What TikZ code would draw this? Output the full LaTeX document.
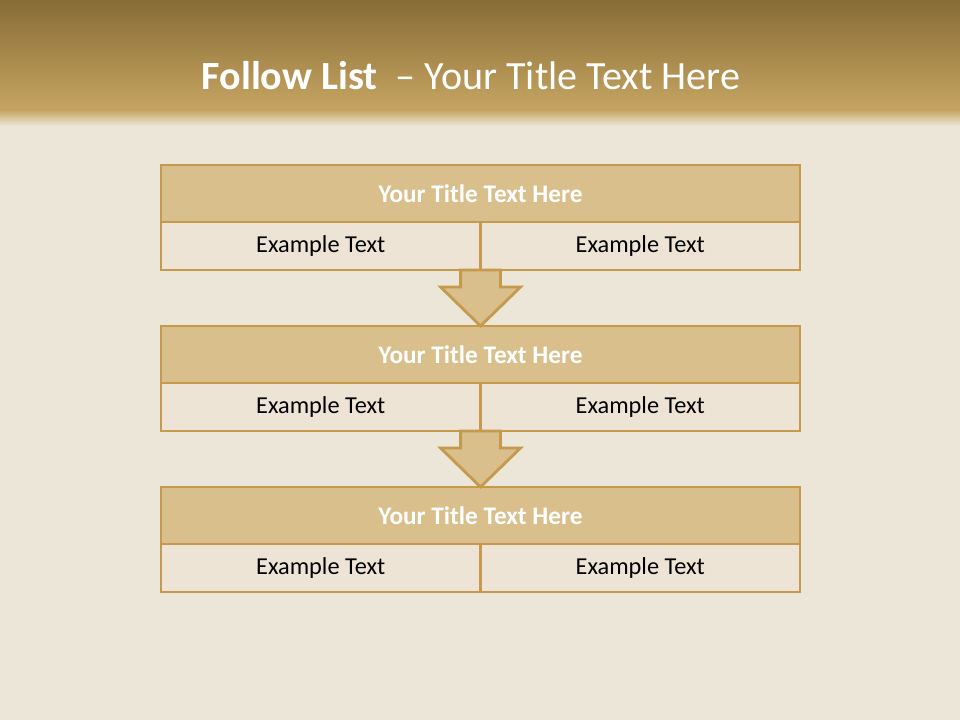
\documentclass[tikz,border=0pt]{standalone}
\usepackage{fontspec}
\setmainfont{Carlito}
\usepackage{xcolor}
\usetikzlibrary{positioning,calc}

\definecolor{paper}{RGB}{236,230,216}
\definecolor{headtop}{RGB}{136,108,54}
\definecolor{headbot}{RGB}{198,165,98}
\definecolor{barfill}{RGB}{216,191,140}
\definecolor{cellfill}{RGB}{237,228,214}
\definecolor{rim}{RGB}{197,154,76}

\begin{document}
\begin{tikzpicture}[
    x=0.025cm, y=-0.025cm,
    titlebar/.style={rectangle, draw=rim, fill=barfill, line width=2pt,
        minimum width=15.975cm, minimum height=1.425cm, inner sep=0pt, outer sep=0pt,
        text=white, font=\fontsize{18}{21}\selectfont\bfseries},
    cell/.style={rectangle, draw=rim, fill=cellfill, line width=2pt,
        minimum width=7.99cm, minimum height=1.2cm, inner sep=0pt, outer sep=0pt,
        font=\fontsize{17.3}{20}\selectfont},
    flowarr/.style={draw=rim, fill=barfill, line width=2pt, line join=miter}
]
% paper and header band
\fill[paper] (0,0) rectangle (960,720);
\shade[top color=headtop, bottom color=headbot] (0,0) rectangle (960,110);
\shade[top color=headbot, bottom color=paper] (0,110) rectangle (960,126);
\node[text=white, font=\fontsize{28.5}{32}\selectfont] (head) at (471,76)
     {\textbf{Follow List}\ \ -- Your Title Text Here};
% three rows of the list
\node[titlebar, anchor=north] (title1) at (480.5,165) {Your Title Text Here};
\node[cell, below right=0 and 0 of title1.south west] (left1)  {Example Text};
\node[cell, below left=0 and 0 of title1.south east]  (right1) {Example Text};
\node[titlebar, anchor=north] (title2) at (480.5,326) {Your Title Text Here};
\node[cell, below right=0 and 0 of title2.south west] (left2)  {Example Text};
\node[cell, below left=0 and 0 of title2.south east]  (right2) {Example Text};
\node[titlebar, anchor=north] (title3) at (480.5,487) {Your Title Text Here};
\node[cell, below right=0 and 0 of title3.south west] (left3)  {Example Text};
\node[cell, below left=0 and 0 of title3.south east]  (right3) {Example Text};
% block arrows between rows
\draw[flowarr] ($(left1.south east)+(-20,0)$) -- ++(0,17) -- ++(-20,0)
     -- (title2.north) -- ++(40,-39) -- ++(-20,0) -- ++(0,-17) -- cycle;
\draw[flowarr] ($(left2.south east)+(-20,0)$) -- ++(0,17) -- ++(-20,0)
     -- (title3.north) -- ++(40,-39) -- ++(-20,0) -- ++(0,-17) -- cycle;
\end{tikzpicture}
\end{document}
